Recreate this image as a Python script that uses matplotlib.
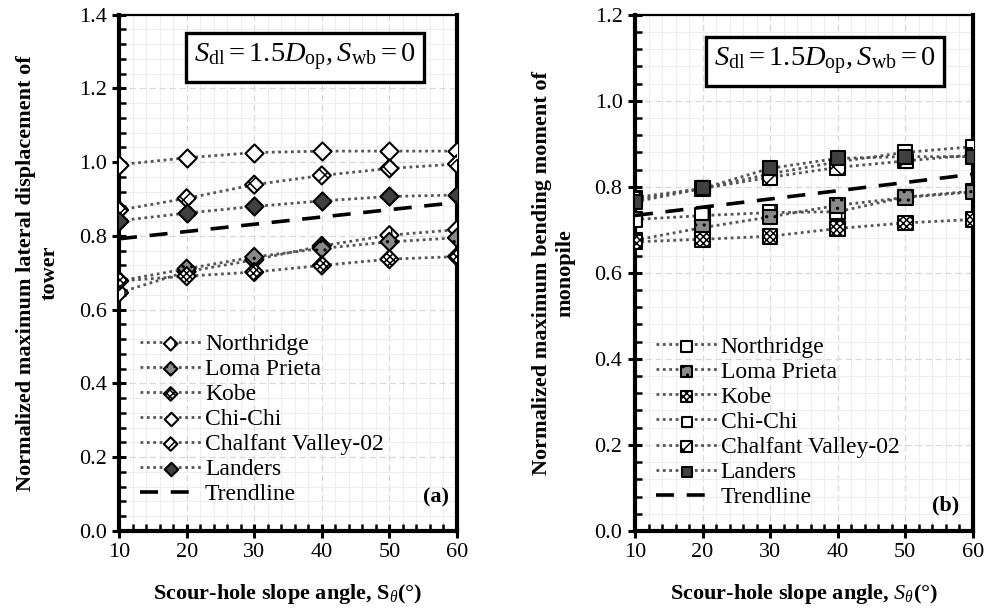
import numpy as np
import matplotlib
matplotlib.use("Agg")
import matplotlib.pyplot as plt
from matplotlib.ticker import MultipleLocator, FormatStrFormatter
from matplotlib.legend_handler import HandlerTuple

plt.rcParams["font.family"] = ["Liberation Serif", "DejaVu Serif"]
plt.rcParams["mathtext.fontset"] = "custom"
plt.rcParams["mathtext.rm"] = "Liberation Serif"
plt.rcParams["mathtext.it"] = "Liberation Serif:italic"
plt.rcParams["mathtext.bf"] = "Liberation Serif:bold"
plt.rcParams["hatch.linewidth"] = 1.1

slope = [10, 20, 30, 40, 50, 60]
names = ["Northridge", "Loma Prieta", "Kobe", "Chi-Chi", "Chalfant Valley-02", "Landers"]

# (a) normalized max lateral displacement of tower
disp_northridge = [0.646, 0.703, 0.735, 0.773, 0.802, 0.817]
disp_loma = [0.678, 0.711, 0.743, 0.766, 0.784, 0.795]
disp_kobe = [0.678, 0.691, 0.702, 0.720, 0.737, 0.744]
disp_chichi = [0.993, 1.012, 1.026, 1.030, 1.030, 1.030]
disp_chalfant = [0.870, 0.902, 0.939, 0.964, 0.983, 0.995]
disp_landers = [0.841, 0.862, 0.880, 0.895, 0.907, 0.911]

# (b) normalized max bending moment of monopile
mom_northridge = [0.724, 0.733, 0.740, 0.742, 0.776, 0.790]
mom_loma = [0.676, 0.705, 0.730, 0.757, 0.775, 0.788]
mom_kobe = [0.672, 0.678, 0.685, 0.703, 0.716, 0.724]
mom_chichi = [0.775, 0.796, 0.830, 0.858, 0.880, 0.893]
mom_chalfant = [0.770, 0.796, 0.822, 0.845, 0.860, 0.874]
mom_landers = [0.765, 0.796, 0.843, 0.866, 0.870, 0.870]

# face colour / hatch per record
styles = [
    dict(fc="white", hatch="|"),
    dict(fc="#8a8a8a", hatch=".."),
    dict(fc="white", hatch="xxxxx"),
    dict(fc="white", hatch=None),
    dict(fc="white", hatch="xx"),
    dict(fc="#404040", hatch=None),
]

fig = plt.figure(figsize=(9.88, 6.11), dpi=100)
ax_a = fig.add_axes([0.1205, 0.131, 0.342, 0.845])
ax_b = fig.add_axes([0.6427, 0.131, 0.342, 0.845])


def draw_panel(ax, series, marker, msize, ylim, ylabel, xlabel, tag, tag_xy,
               box_xy, legend_y):
    handles = []
    for vals, st in zip(series, styles):
        ln, = ax.plot(slope, vals, linestyle=(0, (1, 1.3)), color="#555555",
                      lw=2.0, zorder=3)
        sc = ax.scatter(slope, vals, marker=marker, s=msize, facecolor=st["fc"],
                        edgecolor="black", linewidths=1.5, hatch=st["hatch"],
                        zorder=4)
        handles.append((ln, sc))

    # linear trend through all records
    xs = np.tile(slope, len(series))
    ys = np.concatenate(series)
    k, b = np.polyfit(xs, ys, 1)
    xt = np.array([slope[0], slope[-1]])
    tl, = ax.plot(xt, k * xt + b, color="black", lw=2.6, linestyle=(0, (5, 3.5)),
                  zorder=5)
    handles.append(tl)

    ax.set_xlim(10, 60)
    ax.set_ylim(*ylim)
    ax.xaxis.set_major_locator(MultipleLocator(10))
    ax.xaxis.set_minor_locator(MultipleLocator(2))
    ax.yaxis.set_major_locator(MultipleLocator(0.2))
    ax.yaxis.set_minor_locator(MultipleLocator(0.04))
    ax.yaxis.set_major_formatter(FormatStrFormatter("%.1f"))
    ax.grid(which="major", color="#d8d8d8", linestyle=(0, (5, 3)), lw=0.9)
    ax.grid(which="minor", color="#eeeeee", linestyle="-", lw=0.8)
    ax.set_axisbelow(True)

    ax.tick_params(which="major", direction="inout", length=10, width=2.2,
                   labelsize=16, pad=4, top=False, right=False)
    ax.tick_params(which="minor", direction="in", length=5, width=1.8,
                   top=False, right=False)
    for side, sp in ax.spines.items():
        sp.set_linewidth(1.6 if side == "top" else 3.0)

    ax.set_ylabel(ylabel, fontsize=16, fontweight="bold", labelpad=14)
    ax.set_xlabel(xlabel, fontsize=16, fontweight="bold", labelpad=14)

    ax.text(*box_xy, r"$S_{\rm dl}=1.5D_{\rm op}, S_{\rm wb}=0$", transform=ax.transAxes,
            ha="center", va="center", fontsize=20.5, zorder=6,
            bbox=dict(boxstyle="square,pad=0.3", facecolor="white",
                      edgecolor="black", linewidth=2.4))
    ax.text(*tag_xy, tag, transform=ax.transAxes, ha="right", va="center",
            fontsize=16, fontweight="bold")

    ax.legend(handles, names + ["Trendline"], handler_map={tuple: HandlerTuple(ndivide=1)},
              loc="upper left", bbox_to_anchor=(0.02, legend_y), frameon=False,
              fontsize=17, handlelength=2.6, handletextpad=0.15, labelspacing=0.15,
              borderaxespad=0.2, scatterpoints=1, markerscale=0.75)


draw_panel(ax_a,
           [disp_northridge, disp_loma, disp_kobe, disp_chichi, disp_chalfant, disp_landers],
           "D", 85, (0.0, 1.4),
           "Normalized maximum lateral displacement of\ntower",
           r"Scour-hole slope angle, S$_{\theta}$(°)", "(a)", (0.975, 0.065),
           (0.55, 0.917), 0.41)

draw_panel(ax_b,
           [mom_northridge, mom_loma, mom_kobe, mom_chichi, mom_chalfant, mom_landers],
           "s", 110, (0.0, 1.2),
           "Normalized maximum bending moment of\nmonopile",
           r"Scour-hole slope angle, $S_{\theta}$(°)", "(b)", (0.96, 0.05),
           (0.562, 0.909), 0.405)

fig.savefig("out.png", dpi=100)
